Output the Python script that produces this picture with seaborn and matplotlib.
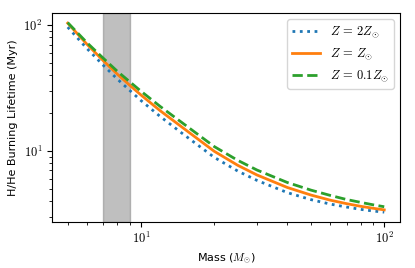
import numpy as np
import pandas as pd
import matplotlib
matplotlib.use("Agg")
import matplotlib.pyplot as plt
from matplotlib.ticker import FuncFormatter, LogLocator, NullFormatter
import seaborn as sns

# masses (Msun) and H/He burning lifetimes (Myr)
mass = [5, 6, 7, 8, 9, 10, 12, 15, 20, 25, 30, 40, 50, 60, 70, 80, 90, 100]
life_2zsun = [96.7, 65.3, 48.1, 37.3, 30.3, 25.2, 18.8, 13.5, 8.9, 6.92, 5.83,
              4.66, 4.10, 3.78, 3.58, 3.43, 3.33, 3.26]
life_zsun = [104, 70.6, 52.3, 40.8, 33.3, 27.9, 20.9, 15.1, 9.95, 7.69, 6.44,
             5.12, 4.46, 4.06, 3.81, 3.63, 3.50, 3.40]
life_01zsun = [105, 72.7, 54.7, 43.0, 35.5, 29.9, 22.6, 16.4, 10.85, 8.42, 7.05,
               5.61, 4.88, 4.43, 4.11, 3.90, 3.73, 3.60]
labels = [r"$Z\,=\,2Z_{\odot}$", r"$Z\,=\,Z_{\odot}$", r"$Z\,=\,0.1Z_{\odot}$"]
span = (7, 9)

# plain matplotlib look (black text, minor ticks)
plt.rcParams["font.family"] = ["DejaVu Sans"]
plt.rcParams["mathtext.fontset"] = "cm"

df = pd.DataFrame({
    "mass": mass * 3,
    "life": life_2zsun + life_zsun + life_01zsun,
    "Z": [labels[0]] * len(mass) + [labels[1]] * len(mass) + [labels[2]] * len(mass),
})

fig = plt.figure(figsize=(4.15, 2.68), dpi=100)
ax = fig.add_axes([0.125, 0.173, 0.839, 0.778])

colors = ["#1f77b4", "#ff7f0e", "#2ca02c"]
styles = [":", "-", "--"]
for lab, c, ls in zip(labels, colors, styles):
    sub = df[df["Z"] == lab]
    sns.lineplot(data=sub, x="mass", y="life", ax=ax, color=c, lw=2,
                 linestyle=ls, label=lab)

ax.axvspan(*span, color="gray", alpha=0.5)
ax.set_xscale("log")
ax.set_yscale("log")

pow10 = FuncFormatter(lambda v, p: r"$10^{%d}$" % round(np.log10(v)))
for axis in (ax.xaxis, ax.yaxis):
    axis.set_major_locator(LogLocator(base=10))
    axis.set_major_formatter(pow10)
    axis.set_minor_locator(LogLocator(base=10, subs=np.arange(2, 10)))
    axis.set_minor_formatter(NullFormatter())

ax.set_xlabel(r"Mass ($M_{\odot}$)", fontsize=8)
ax.set_ylabel("H/He Burning Lifetime (Myr)", fontsize=8)
ax.tick_params(labelsize=9)
ax.legend(loc="upper right", fontsize=9, handlelength=2.2)

fig.savefig("out.png", dpi=100)
